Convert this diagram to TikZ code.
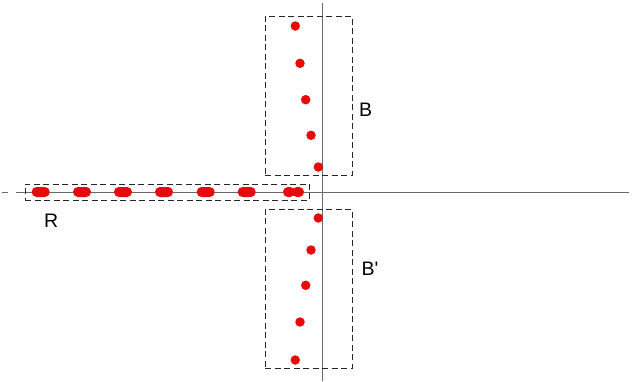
\documentclass[tikz,border=0pt]{standalone}
\usepackage{fontspec}
\setmainfont{Liberation Sans}

\definecolor{dotred}{RGB}{230,10,10}
\definecolor{axisgray}{RGB}{105,105,105}

\begin{document}
\begin{tikzpicture}[
        x=1pt, y=-1pt,
        axis/.style={draw=axisgray, line width=0.9pt},
        groupbox/.style={rectangle, draw=black!85, dash pattern=on 6pt off 3.5pt, line width=0.9pt, inner sep=0pt, minimum width=87pt, minimum height=159pt},
        rootdot/.style={rectangle, rounded corners=4.8pt, fill=dotred, minimum width=18pt, minimum height=10pt, inner sep=0pt},
        branchdot/.style={circle, fill=dotred, minimum size=9.5pt, inner sep=0pt},
        grouplabel/.style={anchor=base west, inner sep=0pt, font=\fontsize{19.5}{23}\selectfont}
    ]
    \useasboundingbox (0,0) rectangle (637,381);

    % Axes
    \coordinate (tickL) at (2,192);
    \coordinate (tickR) at (8,192);
    \coordinate (xmin) at (16,192);
    \coordinate (xmax) at (629,192);
    \coordinate (ymin) at (322.5,3);
    \coordinate (ymax) at (322.5,381);
    \draw[axis] (tickL) -- (tickR);
    \draw[axis] (xmin) -- (xmax);
    \draw[axis] (ymin) -- (ymax);

    % Dashed boxes
    \node[groupbox, minimum width=284pt, minimum height=16.5pt] (rbox) at (167,192.2) {};
    \node[groupbox] (bbox) at (308.8,95.5) {};
    \node[groupbox] (bpbox) at (308.8,288.5) {};

    % Labels
    \node[grouplabel] (rlabel) at (44,227) {R};
    \node[grouplabel] (blabel) at (359,116.5) {B};
    \node[grouplabel] (bplabel) at (361.5,275.5) {B\textquotesingle};

    % Dots on the axis
    \node[rootdot] (r1) at (40.7,192) {};
    \node[rootdot] (r2) at (82,192) {};
    \node[rootdot] (r3) at (123,192) {};
    \node[rootdot] (r4) at (164,192) {};
    \node[rootdot] (r5) at (205.7,192) {};
    \node[rootdot] (r6) at (246.7,192) {};
    \node[rootdot, minimum width=12pt] (r7) at (289,192) {};
    \node[rootdot, minimum width=12pt] (r8) at (298,192) {};

    % Dots in the upper box
    \node[branchdot] (b1) at (295.3,26) {};
    \node[branchdot] (b2) at (300,63.3) {};
    \node[branchdot] (b3) at (305.7,99.7) {};
    \node[branchdot] (b4) at (311,135.3) {};
    \node[branchdot] (b5) at (318.3,167) {};

    % Dots in the lower box
    \node[branchdot] (bp1) at (318.3,218) {};
    \node[branchdot] (bp2) at (311,250) {};
    \node[branchdot] (bp3) at (305.7,285.3) {};
    \node[branchdot] (bp4) at (300,322) {};
    \node[branchdot] (bp5) at (295.3,360) {};

\end{tikzpicture}
\end{document}
